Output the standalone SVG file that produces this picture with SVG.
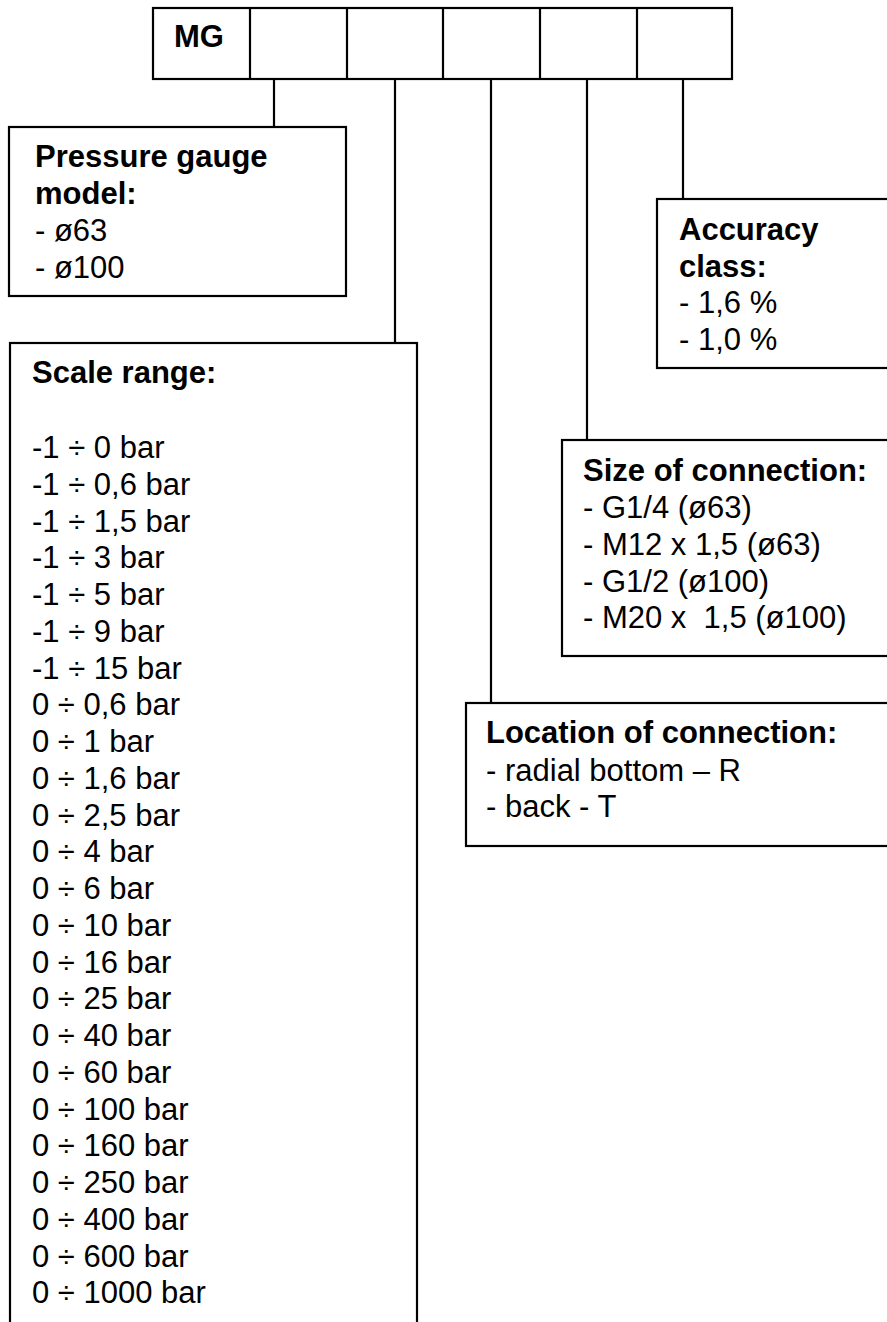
<svg xmlns="http://www.w3.org/2000/svg" width="887" height="1322" viewBox="0 0 887 1322">
<style>
.box{fill:#fff;stroke:#000;stroke-width:2.2}
.ln{stroke:#000;stroke-width:2.2;fill:none}
text{font-family:"Liberation Sans",Arial,sans-serif;font-size:31px;fill:#000}
.b{font-weight:bold}
</style>
<rect width="887" height="1322" fill="#fff"/>
<g id="connectors">
<line class="ln" x1="274" y1="79" x2="274" y2="127"/>
<line class="ln" x1="395" y1="79" x2="395" y2="343"/>
<line class="ln" x1="491" y1="79" x2="491" y2="703"/>
<line class="ln" x1="587" y1="79" x2="587" y2="440"/>
<line class="ln" x1="683" y1="79" x2="683" y2="199"/>
</g>
<g id="code">
<rect class="box" x="153" y="8" width="579" height="71"/>
<line class="ln" x1="250" y1="8" x2="250" y2="79"/>
<line class="ln" x1="347" y1="8" x2="347" y2="79"/>
<line class="ln" x1="443" y1="8" x2="443" y2="79"/>
<line class="ln" x1="540" y1="8" x2="540" y2="79"/>
<line class="ln" x1="637" y1="8" x2="637" y2="79"/>
<text class="b" x="174" y="47" font-size="30">MG</text>
</g>
<g id="model">
<rect class="box" x="9" y="127" width="337" height="169"/>
<text class="b" x="35" y="167">Pressure gauge</text>
<text class="b" x="35" y="204">model:</text>
<text x="35" y="241">- ø63</text>
<text x="35" y="278">- ø100</text>
</g>
<g id="accuracy">
<rect class="box" x="657" y="199" width="260" height="169"/>
<text class="b" x="679" y="240">Accuracy</text>
<text class="b" x="679" y="277">class:</text>
<text x="679" y="313">- 1,6 %</text>
<text x="679" y="350">- 1,0 %</text>
</g>
<g id="size">
<rect class="box" x="562" y="440" width="350" height="216"/>
<text class="b" x="583" y="481">Size of connection:</text>
<text x="583" y="518">- G1/4 (ø63)</text>
<text x="583" y="555">- M12 x 1,5 (ø63)</text>
<text x="583" y="592">- G1/2 (ø100)</text>
<text x="583" y="628" xml:space="preserve">- M20 x  1,5 (ø100)</text>
</g>
<g id="location">
<rect class="box" x="466" y="703" width="450" height="143"/>
<text class="b" x="486" y="743">Location of connection:</text>
<text x="486" y="781">- radial bottom – R</text>
<text x="486" y="817">- back - T</text>
</g>
<g id="scale">
<rect class="box" x="10" y="343" width="407" height="1000"/>
<text class="b" x="32" y="383">Scale range:</text>
<text x="32" y="458">-1 ÷ 0 bar</text>
<text x="32" y="494.75">-1 ÷ 0,6 bar</text>
<text x="32" y="531.5">-1 ÷ 1,5 bar</text>
<text x="32" y="568.25">-1 ÷ 3 bar</text>
<text x="32" y="605">-1 ÷ 5 bar</text>
<text x="32" y="641.75">-1 ÷ 9 bar</text>
<text x="32" y="678.5">-1 ÷ 15 bar</text>
<text x="32" y="715.25">0 ÷ 0,6 bar</text>
<text x="32" y="752">0 ÷ 1 bar</text>
<text x="32" y="788.75">0 ÷ 1,6 bar</text>
<text x="32" y="825.5">0 ÷ 2,5 bar</text>
<text x="32" y="862.25">0 ÷ 4 bar</text>
<text x="32" y="899">0 ÷ 6 bar</text>
<text x="32" y="935.75">0 ÷ 10 bar</text>
<text x="32" y="972.5">0 ÷ 16 bar</text>
<text x="32" y="1009.25">0 ÷ 25 bar</text>
<text x="32" y="1046">0 ÷ 40 bar</text>
<text x="32" y="1082.75">0 ÷ 60 bar</text>
<text x="32" y="1119.5">0 ÷ 100 bar</text>
<text x="32" y="1156.25">0 ÷ 160 bar</text>
<text x="32" y="1193">0 ÷ 250 bar</text>
<text x="32" y="1229.75">0 ÷ 400 bar</text>
<text x="32" y="1266.5">0 ÷ 600 bar</text>
<text x="32" y="1303.25">0 ÷ 1000 bar</text>
</g>
</svg>
